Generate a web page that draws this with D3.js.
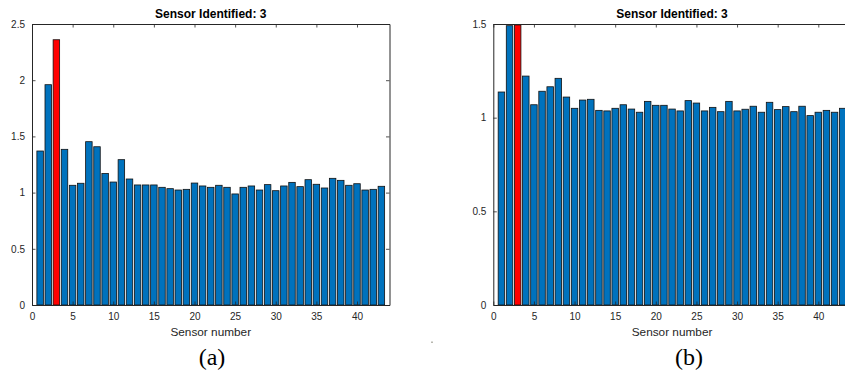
<!DOCTYPE html>
<html>
<head>
<meta charset="utf-8">
<script src="https://cdn.jsdelivr.net/npm/d3@7"></script>
<style>
  body { margin: 0; background: #fff; }
  svg { display: block; }
</style>
</head>
<body>
<svg></svg>
<script>
const width = 845;
const height = 379;

const sensors = d3.range(1, 44);
const identified = 3;
const title = 'Sensor Identified: 3';
const xLabel = 'Sensor number';
const xTicks = [0, 5, 10, 15, 20, 25, 30, 35, 40];

// panel (a)
const valuesA = [1.37, 1.96, 2.36, 1.385, 1.065, 1.083, 1.453, 1.408, 1.17, 1.094,
  1.293, 1.121, 1.068, 1.068, 1.068, 1.047, 1.035, 1.023, 1.029, 1.085,
  1.059, 1.047, 1.065, 1.047, 0.988, 1.047, 1.059, 1.023, 1.071, 1.017,
  1.059, 1.091, 1.053, 1.115, 1.074, 1.041, 1.127, 1.109, 1.065, 1.079,
  1.023, 1.029, 1.056];
const yTicksA = [0, 0.5, 1, 1.5, 2, 2.5];

// panel (b)
const valuesB = [1.137, 1.491, 1.495, 1.222, 1.069, 1.141, 1.165, 1.21, 1.11, 1.05,
  1.094, 1.098, 1.039, 1.036, 1.05, 1.069, 1.046, 1.029, 1.087, 1.066,
  1.066, 1.046, 1.036, 1.091, 1.078, 1.036, 1.055, 1.032, 1.087, 1.036,
  1.045, 1.061, 1.029, 1.082, 1.043, 1.059, 1.032, 1.061, 1.011, 1.029,
  1.039, 1.029, 1.05];
const yTicksB = [0, 0.5, 1, 1.5];

const svg = d3.select('svg')
  .attr('width', width)
  .attr('height', height);

const axisColor = '#262626';
const font = 'Liberation Sans, Arial, sans-serif';
const fmt = d3.format('~g');

const drawPanel = (left, right, values, yMax, yTicks, tag, tagX) => {
  const top = 24;
  const bottom = 305;

  const x = d3.scaleLinear().domain([0, 44]).range([left, right]);
  const y = d3.scaleLinear().domain([0, yMax]).range([bottom, top]);
  const barWidth = x(0.8) - x(0);

  const g = svg.append('g');

  g.selectAll('rect.bar')
    .data(values)
    .enter().append('rect')
    .attr('class', 'bar')
    .attr('x', (d, i) => x(sensors[i]) - barWidth / 2)
    .attr('y', d => y(d))
    .attr('width', barWidth)
    .attr('height', d => y(0) - y(d))
    .style('fill', (d, i) => sensors[i] === identified ? '#ff0000' : '#0072bd')
    .style('stroke', '#111')
    .style('stroke-width', 0.8);

  // box and inward ticks, matlab style
  const bottomAxis = g.append('g')
    .attr('transform', `translate(0, ${bottom})`)
    .call(d3.axisBottom(x).tickValues(xTicks).tickFormat(fmt)
      .tickSizeInner(-3.5).tickSizeOuter(0).tickPadding(8));
  const topAxis = g.append('g')
    .attr('transform', `translate(0, ${top})`)
    .call(d3.axisTop(x).tickValues(xTicks).tickSizeInner(-3.5).tickSizeOuter(0).tickFormat(''));
  const leftAxis = g.append('g')
    .attr('transform', `translate(${left}, 0)`)
    .call(d3.axisLeft(y).tickValues(yTicks).tickFormat(fmt)
      .tickSizeInner(-3.5).tickSizeOuter(0).tickPadding(7));
  const rightAxis = g.append('g')
    .attr('transform', `translate(${right}, 0)`)
    .call(d3.axisRight(y).tickValues(yTicks).tickSizeInner(-3.5).tickSizeOuter(0).tickFormat(''));

  [bottomAxis, topAxis, leftAxis, rightAxis].forEach(a => {
    a.select('.domain').attr('stroke', axisColor).attr('stroke-width', 1);
    a.selectAll('.tick line').attr('stroke', axisColor).attr('stroke-width', 0.8);
    a.selectAll('.tick text')
      .attr('fill', axisColor)
      .style('font-family', font)
      .style('font-size', '10px');
  });

  const mid = (left + right) / 2;

  g.append('text')
    .attr('x', mid)
    .attr('y', 18)
    .attr('text-anchor', 'middle')
    .style('font-family', font)
    .style('font-size', '12px')
    .style('font-weight', 'bold')
    .style('fill', '#000')
    .text(title);

  g.append('text')
    .attr('x', mid)
    .attr('y', 336)
    .attr('text-anchor', 'middle')
    .style('font-family', font)
    .style('font-size', '11.8px')
    .style('fill', axisColor)
    .text(xLabel);

  g.append('text')
    .attr('x', tagX)
    .attr('y', 365)
    .attr('text-anchor', 'middle')
    .style('font-family', 'Liberation Serif, Times New Roman, serif')
    .style('font-size', '24px')
    .style('fill', '#000')
    .text(tag);
};

drawPanel(32, 389.5, valuesA, 2.5, yTicksA, '(a)', 212);
drawPanel(493.3, 850.8, valuesB, 1.5, yTicksB, '(b)', 689);

// stray speck between the panels
svg.append('rect')
  .attr('x', 431)
  .attr('y', 341.5)
  .attr('width', 2)
  .attr('height', 1.5)
  .style('fill', '#b8b8b0');
</script>
</body>
</html>
